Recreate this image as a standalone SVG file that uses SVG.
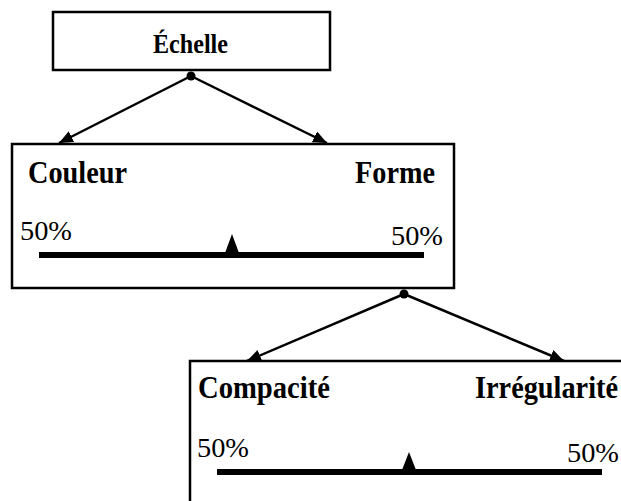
<svg xmlns="http://www.w3.org/2000/svg" width="621" height="501" viewBox="0 0 621 501">
<style>
.box{fill:#fff;stroke:#000;stroke-width:2.5}
.lbl{font-family:"Liberation Serif",serif;font-weight:bold;font-size:31px;fill:#000}
.ttl{font-family:"Liberation Serif",serif;font-weight:bold;font-size:28px;fill:#000}
.pct{font-family:"Liberation Serif",serif;font-size:27px;fill:#000}
.edge{stroke:#000;stroke-width:2.5;fill:none;marker-end:url(#arr)}
.bar{fill:#000}
</style>
<defs>
<marker id="arr" viewBox="0 0 14 12" refX="14" refY="6" markerWidth="14" markerHeight="12" markerUnits="userSpaceOnUse" orient="auto">
<path d="M0,0 L14,6 L0,12 z" fill="#000"/>
</marker>
</defs>
<rect width="621" height="501" fill="#fff"/>
<g id="connectors">
<line class="edge" x1="191" y1="76" x2="59" y2="143"/>
<line class="edge" x1="191" y1="76" x2="327" y2="143"/>
<line class="edge" x1="404" y1="294" x2="247" y2="361"/>
<line class="edge" x1="404" y1="294" x2="564" y2="361"/>
<circle cx="191" cy="76" r="4.5" fill="#000"/>
<circle cx="404" cy="294" r="4.5" fill="#000"/>
</g>
<g id="echelle">
<rect class="box" x="53" y="12" width="277" height="58"/>
<text class="ttl" x="153" y="53" textLength="75" lengthAdjust="spacingAndGlyphs">Échelle</text>
</g>
<g id="couleur-forme">
<rect class="box" x="12" y="144" width="442" height="144"/>
<text class="lbl" x="28" y="183" textLength="99" lengthAdjust="spacingAndGlyphs">Couleur</text>
<text class="lbl" x="355" y="183" textLength="80" lengthAdjust="spacingAndGlyphs">Forme</text>
<text class="pct" x="20" y="240" textLength="52" lengthAdjust="spacingAndGlyphs">50%</text>
<text class="pct" x="391" y="245" textLength="52" lengthAdjust="spacingAndGlyphs">50%</text>
<rect class="bar" x="39" y="252" width="385" height="6"/>
<path class="bar" d="M225,253 L232,234 L239,253 z"/>
</g>
<g id="compacite-irregularite">
<rect class="box" x="190" y="361" width="440" height="150"/>
<text class="lbl" x="198" y="398" textLength="132" lengthAdjust="spacingAndGlyphs">Compacité</text>
<text class="lbl" x="475" y="398" textLength="143" lengthAdjust="spacingAndGlyphs">Irrégularité</text>
<text class="pct" x="197" y="457" textLength="52" lengthAdjust="spacingAndGlyphs">50%</text>
<text class="pct" x="567" y="462" textLength="52" lengthAdjust="spacingAndGlyphs">50%</text>
<rect class="bar" x="217" y="469" width="385" height="6"/>
<path class="bar" d="M402,470 L409,452 L416,470 z"/>
</g>
</svg>
